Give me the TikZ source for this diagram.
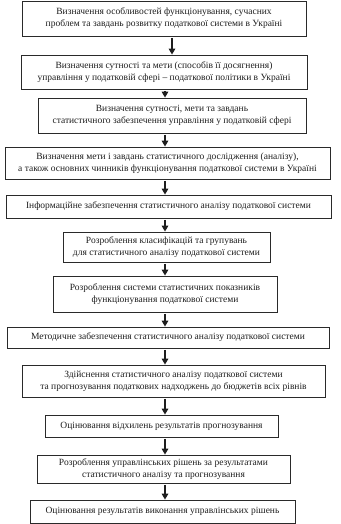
\documentclass[tikz,border=0pt]{standalone}
\usepackage{fontspec}
\setmainfont{Liberation Serif}
\usepackage{xcolor}
\usepackage{tikz}
\usetikzlibrary{arrows.meta,positioning,calc}
\definecolor{ink}{HTML}{1E1E1E}
\definecolor{frame}{HTML}{2A2A2A}
\tikzset{
  stagebox/.style={
    rectangle, draw=frame, line width=0.8pt, fill=white,
    minimum width=#1, minimum height=0.8cm,
    font=\fontsize{9.5}{12}\selectfont, text=ink, align=center,
    inner sep=2pt
  },
  stagebox/.default=280pt,
  flowarrow/.style={
    -{Triangle[length=6pt,width=6.5pt]}, line width=1.7pt, color=ink,
    shorten <=1.5pt
  },
}

\begin{document}
\begin{tikzpicture}[x=1pt,y=-1pt]
\useasboundingbox (0,0) rectangle (340,524);
\coordinate (ax) at (165,0);
% stages of the statistical support of tax management
\node[stagebox=284pt, minimum height=35pt] (s1) at (164,18.5)
  {Визначення особливостей функціонування, сучасних\\проблем та завдань розвитку податкової системи в Україні};
\node[stagebox=286pt, minimum height=34pt] (s2) at (164,72)
  {Визначення сутності та мети (способів її досягнення)\\управління у податковій сфері – податкової політики в Україні};
\node[stagebox=268pt, minimum height=35pt] (s3) at (172,115.5)
  {Визначення сутності, мети та завдань\\статистичного забезпечення управління у податковій сфері};
\node[stagebox=325pt, minimum height=32pt] (s4) at (167.5,163)
  {Визначення мети і завдань статистичного дослідження (аналізу),\\а також основних чинників функціонування податкової системи в Україні};
\node[stagebox=325pt, minimum height=23pt] (s5) at (168.5,206.5)
  {Інформаційне забезпечення статистичного аналізу податкової системи};
\node[stagebox=207pt, minimum height=30pt] (s6) at (166.5,247)
  {Розроблення класифікацій та групувань\\для статистичного аналізу податкової системи};
\node[stagebox=224pt, minimum height=36pt] (s7) at (165,294)
  {Розроблення системи статистичних показників\\функціонування податкової системи};
\node[stagebox=322pt, minimum height=21pt] (s8) at (168,337.5)
  {Методичне забезпечення статистичного аналізу податкової системи};
\node[stagebox=303pt, minimum height=32pt] (s9) at (173.5,381)
  {Здійснення статистичного аналізу податкової системи\\та прогнозування податкових надходжень до бюджетів всіх рівнів};
\node[stagebox=233pt, minimum height=22pt] (s10) at (161.5,426)
  {Оцінювання відхилень результатів прогнозування};
\node[stagebox=253pt, minimum height=28pt] (s11) at (163.5,469)
  {Розроблення управлінських рішень за результатами\\статистичного аналізу та прогнозування};
\node[stagebox=265pt, minimum height=23pt] (s12) at (162.5,511.5)
  {Оцінювання результатів виконання управлінських рішень};
% arrows between stages
\draw[flowarrow] ([xshift=7pt]s1.south -| ax) -- ([xshift=7pt]s2.north -| ax);
\draw[flowarrow] (s2.south -| ax) -- (s3.north -| ax);
\draw[flowarrow] (s3.south -| ax) -- (s4.north -| ax);
\draw[flowarrow] (s4.south -| ax) -- (s5.north -| ax);
\draw[flowarrow] (s5.south -| ax) -- (s6.north -| ax);
\draw[flowarrow] (s6.south -| ax) -- (s7.north -| ax);
\draw[flowarrow] (s7.south -| ax) -- (s8.north -| ax);
\draw[flowarrow] (s8.south -| ax) -- (s9.north -| ax);
\draw[flowarrow] (s9.south -| ax) -- (s10.north -| ax);
\draw[flowarrow] (s10.south -| ax) -- (s11.north -| ax);
\draw[flowarrow] (s11.south -| ax) -- (s12.north -| ax);
\end{tikzpicture}
\end{document}
